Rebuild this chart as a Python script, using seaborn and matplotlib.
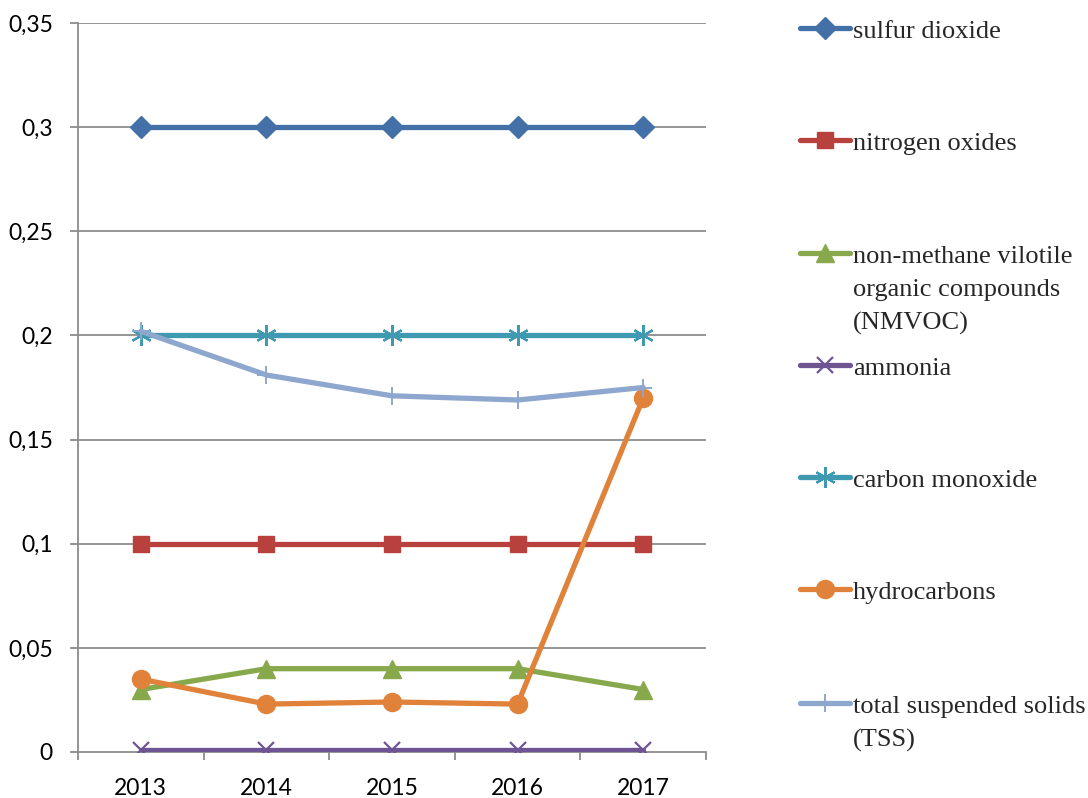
import matplotlib
matplotlib.use("Agg")
import matplotlib.pyplot as plt
from matplotlib.lines import Line2D
import seaborn as sns
import pandas as pd

# Emissions by pollutant, 2013-2017
years = ["2013", "2014", "2015", "2016", "2017"]
sulfur_dioxide = [0.3, 0.3, 0.3, 0.3, 0.3]
nitrogen_oxides = [0.1, 0.1, 0.1, 0.1, 0.1]
nmvoc = [0.03, 0.04, 0.04, 0.04, 0.03]
ammonia = [0.001, 0.001, 0.001, 0.001, 0.001]
carbon_monoxide = [0.2, 0.2, 0.2, 0.2, 0.2]
hydrocarbons = [0.035, 0.023, 0.024, 0.023, 0.17]
tss = [0.202, 0.181, 0.171, 0.169, 0.175]

series_names = [
    "sulfur dioxide",
    "nitrogen oxides",
    "non-methane vilotile\norganic compounds\n(NMVOC)",
    "ammonia",
    "carbon monoxide",
    "hydrocarbons",
    "total suspended solids\n(TSS)",
]
series_values = [sulfur_dioxide, nitrogen_oxides, nmvoc, ammonia,
                 carbon_monoxide, hydrocarbons, tss]

y_ticks = [0, 0.05, 0.1, 0.15, 0.2, 0.25, 0.3, 0.35]
y_tick_labels = ["0", "0,05", "0,1", "0,15", "0,2", "0,25", "0,3", "0,35"]

# styling per series: color, marker, marker size, marker edge width
styles = [
    ("#4470A8", "D", 11, 1.0),
    ("#B8403D", "s", 12, 1.0),
    ("#88A84C", "^", 13, 1.0),
    ("#6F5494", "x", 12, 1.6),
    ("#3F99B0", (6, 2, 0), 15, 1.6),
    ("#E0823A", "o", 13, 1.0),
    ("#8EA7CE", "+", 13, 1.4),
]

df = pd.DataFrame(
    [(name, y, v) for name, vals in zip(series_names, series_values)
     for y, v in zip(years, vals)],
    columns=["series", "year", "value"],
)

sns.set_style("white")
fig = plt.figure(figsize=(10.88, 7.98), dpi=100)
W, H = 1088, 798
ax = fig.add_axes([78 / W, 1 - 752 / H, (706 - 78) / W, (752 - 23) / H])

for z, (name, (color, marker, ms, mew)) in enumerate(zip(series_names, styles)):
    sub = df[df["series"] == name]
    sns.lineplot(data=sub, x="year", y="value", ax=ax, color=color,
                 linewidth=3.8, marker=marker, markersize=ms,
                 markeredgecolor=color, markerfacecolor=color,
                 markeredgewidth=mew, sort=False, legend=False,
                 zorder=3 + z)

grid_color = "#8C8C8C"
ax.set_ylim(0, 0.35)
ax.set_xlim(-0.5, len(years) - 0.5)
ax.set_yticks(y_ticks)
ax.set_yticklabels(y_tick_labels)
ax.set_xticks(range(len(years)))
ax.set_xticklabels(years)
ax.set_xticks([i - 0.5 for i in range(len(years) + 1)], minor=True)
ax.set_xlabel("")
ax.set_ylabel("")

for y in y_ticks[1:]:
    ax.axhline(y, color=grid_color, linewidth=1.3, zorder=1)

for side in ["top", "right"]:
    ax.spines[side].set_visible(False)
for side in ["left", "bottom"]:
    ax.spines[side].set_color(grid_color)
    ax.spines[side].set_linewidth(1.3)

ax.tick_params(axis="y", which="major", length=6, width=1.3, color=grid_color,
               pad=12, direction="out", left=True)
ax.tick_params(axis="x", which="major", length=0, pad=19)
ax.tick_params(axis="x", which="minor", length=6, width=1.3, color=grid_color,
               direction="out", bottom=True)
for lab in ax.get_yticklabels() + ax.get_xticklabels():
    lab.set_fontfamily("Lato")
    lab.set_fontsize(16.5)
    lab.set_color("black")

# legend on the right, handle aligned with the first line of each label
legend_y = [28, 140, 253, 365, 477, 589, 703]
for name, (color, marker, ms, mew), ly in zip(series_names, styles, legend_y):
    yf = 1 - ly / H
    fig.add_artist(Line2D([800 / W, 850 / W], [yf, yf], color=color,
                          linewidth=3.8, transform=fig.transFigure))
    fig.add_artist(Line2D([825 / W], [yf], color=color, marker=marker,
                          markersize=ms, markeredgecolor=color,
                          markerfacecolor=color, markeredgewidth=mew,
                          linestyle="none", transform=fig.transFigure))
    fig.text(853 / W, 1 - (ly - 7) / H, name, family="Liberation Serif",
             fontsize=19, va="top", ha="left", linespacing=1.63)

fig.savefig("out.png", dpi=100)
